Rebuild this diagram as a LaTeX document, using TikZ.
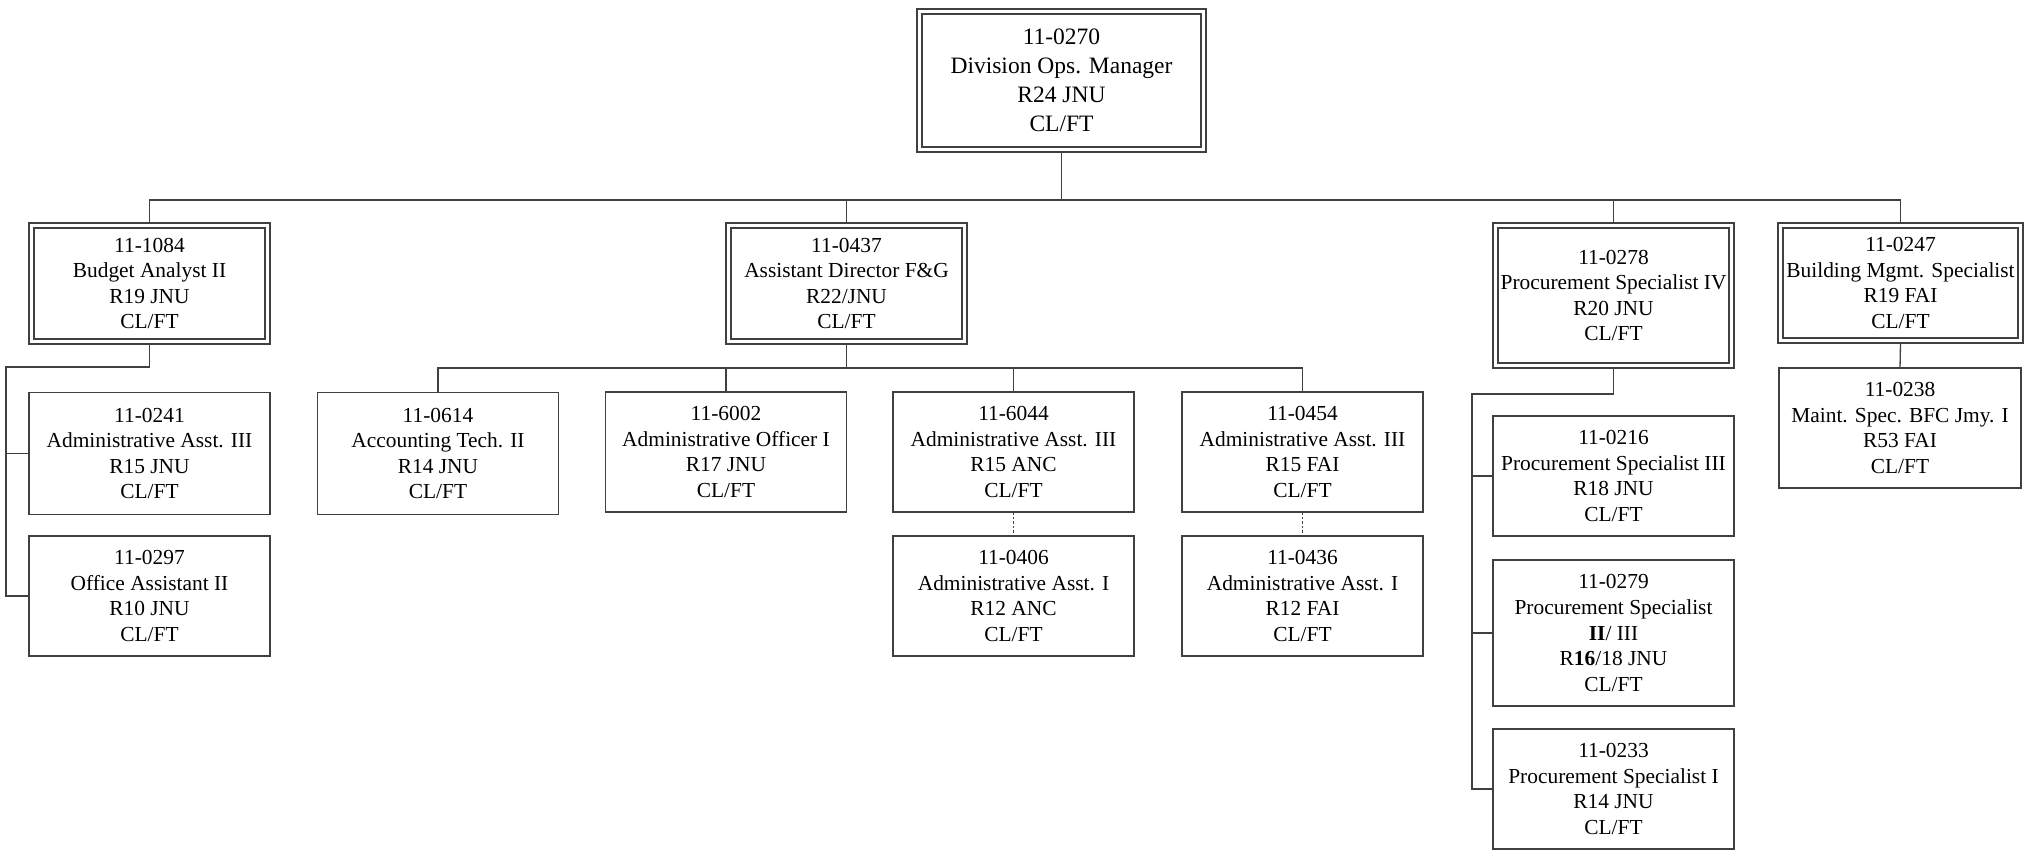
\documentclass[tikz,border=0pt]{standalone}
\usepackage{fontspec}
\setmainfont{Liberation Serif}
\usetikzlibrary{positioning}

\begin{document}
\begin{tikzpicture}[x=0.5pt, y=-0.5pt,
  every node/.style={align=center, inner sep=0pt},
  post/.style={draw=black!75, line width=0.65pt, fill=white, minimum width=120.5pt, minimum height=60pt,
    font=\fontsize{10.7pt}{12.8pt}\selectfont},
  lead/.style={draw=black!75, line width=0.6pt, double=white, double distance=1.9pt, outer sep=1.25pt,
    minimum width=118pt, minimum height=58pt, font=\fontsize{10.7pt}{12.8pt}\selectfont},
  link/.style={draw=black!75, line width=0.65pt},
  dotlink/.style={draw=black!75, line width=0.6pt, dash pattern=on 1.2pt off 1pt}]
\useasboundingbox (0,0) rectangle (2032,850);

% top
\node (top) [lead, minimum width=142pt, minimum height=69pt, font=\fontsize{11.75pt}{14.5pt}\selectfont] at (1061.5,80.5) {11-0270\\Division Ops. Manager\\R24 JNU\\CL/FT};

% second row
\node (budget) [lead] at (149.5,283.5) {11-1084\\Budget Analyst II\\R19 JNU\\CL/FT};
\node (asst) [lead] at (846.5,283.5) {11-0437\\Assistant Director F\&G\\R22/JNU\\CL/FT};
\node (procIV) [lead, minimum height=70pt] at (1613.5,295.5) {11-0278\\Procurement Specialist IV\\R20 JNU\\CL/FT};
\node (building) [lead, minimum width=120pt, minimum height=57.5pt] at (1900.5,283) {11-0247\\Building Mgmt. Specialist\\R19 FAI\\CL/FT};

% budget staff
\node (o0241) [post, minimum height=61pt] at (149.5,453.5) {11-0241\\Administrative Asst. III\\R15 JNU\\CL/FT};
\node (o0297) [post] at (149.5,596) {11-0297\\Office Assistant II\\R10 JNU\\CL/FT};

% assistant director staff
\node (o0614) [post, minimum height=61pt] at (438,453.5) {11-0614\\Accounting Tech. II\\R14 JNU\\CL/FT};
\node (o6002) [post] at (726,452) {11-6002\\Administrative Officer I\\R17 JNU\\CL/FT};
\node (o6044) [post] at (1013.5,452) {11-6044\\Administrative Asst. III\\R15 ANC\\CL/FT};
\node (o0406) [post] at (1013.5,596) {11-0406\\Administrative Asst. I\\R12 ANC\\CL/FT};
\node (o0454) [post] at (1302.5,452) {11-0454\\Administrative Asst. III\\R15 FAI\\CL/FT};
\node (o0436) [post] at (1302.5,596) {11-0436\\Administrative Asst. I\\R12 FAI\\CL/FT};

% procurement staff
\node (o0216) [post] at (1613.5,476) {11-0216\\Procurement Specialist III\\R18 JNU\\CL/FT};
\node (o0279) [post, minimum height=73pt] at (1613.5,633) {11-0279\\Procurement Specialist\\\textbf{II}/ III\\R\textbf{16}/18 JNU\\CL/FT};
\node (o0233) [post] at (1613.5,789) {11-0233\\Procurement Specialist I\\R14 JNU\\CL/FT};

% building staff
\node (o0238) [post, minimum width=121pt] at (1900,428) {11-0238\\Maint. Spec. BFC Jmy. I\\R53 FAI\\CL/FT};

\coordinate (topbus) at (0,200);
\coordinate (asstbus) at (0,368);
\coordinate (budspine) at (6,367);
\coordinate (procspine) at (1472,394);

\draw[link] (top.south) -- (top.south |- topbus);
\draw[link] (budget.north) |- (topbus -| building.north) -- (building.north);
\draw[link] (asst.north) -- (asst.north |- topbus);
\draw[link] (procIV.north) -- (procIV.north |- topbus);

\draw[link] (budget.south) |- (budspine) |- (o0297.west);
\draw[link] (budspine |- o0241.west) -- (o0241.west);

\draw[link] (asst.south) -- (asst.south |- asstbus);
\draw[link] (o0614.north) |- (asstbus -| o0454.north) -- (o0454.north);
\draw[link] (o6002.north) -- (o6002.north |- asstbus);
\draw[link] (o6044.north) -- (o6044.north |- asstbus);
\draw[dotlink] (o6044.south) -- (o0406.north);
\draw[dotlink] (o0454.south) -- (o0436.north);

\draw[link] (procIV.south) |- (procspine) |- (o0233.west);
\draw[link] (procspine |- o0216.west) -- (o0216.west);
\draw[link] (procspine |- o0279.west) -- (o0279.west);

\draw[link] (building.south) -- (o0238.north);
\end{tikzpicture}
\end{document}
